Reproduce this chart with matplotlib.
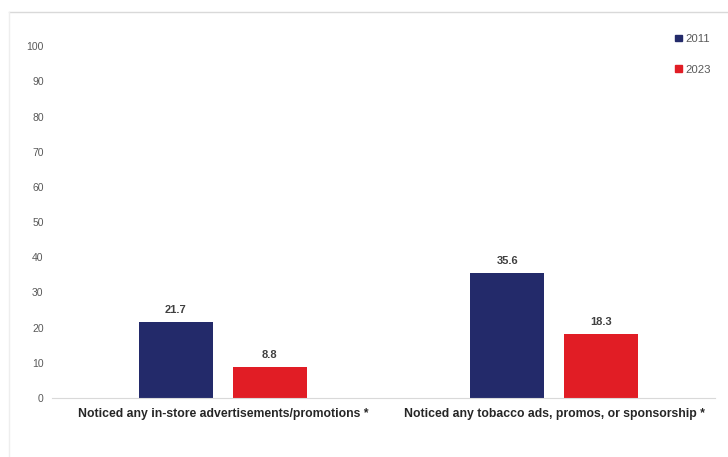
import numpy as np
import matplotlib
matplotlib.use("Agg")
import matplotlib.pyplot as plt
from matplotlib.lines import Line2D
from matplotlib.patches import Patch

categories = ["Noticed any in-store advertisements/promotions *",
              "Noticed any tobacco ads, promos, or sponsorship *"]
years = ["2011", "2023"]
values_2011 = [21.7, 35.6]
values_2023 = [8.8, 18.3]
yticks = list(range(0, 101, 10))

navy = "#232A6A"
red = "#E11D25"
grid_gray = "#D9D9D9"
text_gray = "#595959"

plt.rcParams["font.family"] = ["Liberation Sans", "DejaVu Sans"]

fig = plt.figure(figsize=(7.28, 4.57), dpi=100)
ax = fig.add_axes([0.0714, 0.129, 0.911, 0.770])

x = np.arange(len(categories))
w = 0.223
off = 0.142
b1 = ax.bar(x - off, values_2011, w, color=navy, label=years[0])
b2 = ax.bar(x + off, values_2023, w, color=red, label=years[1])

for bars, vals in [(b1, values_2011), (b2, values_2023)]:
    for rect, v in zip(bars, vals):
        ax.text(rect.get_x() + rect.get_width() / 2, v + 2.0, f"{v:.1f}",
                ha="center", va="bottom", fontsize=8, fontweight="bold",
                color="#404040")

ax.set_xlim(-0.515, 1.485)
ax.set_ylim(0, 100)
ax.set_yticks(yticks)
ax.set_yticklabels([str(t) for t in yticks], fontsize=7.5, color=text_gray)
ax.set_xticks(x)
ax.set_xticklabels(categories, fontsize=8.8, fontweight="bold", color="#262626")
ax.tick_params(axis="both", length=0)
ax.tick_params(axis="y", pad=6)
ax.tick_params(axis="x", pad=7)

for s in ["top", "right", "left"]:
    ax.spines[s].set_visible(False)
ax.spines["bottom"].set_color(grid_gray)
ax.spines["bottom"].set_linewidth(0.8)

handles = [Patch(color=navy, label=years[0]), Patch(color=red, label=years[1])]
fig.legend(handles=handles, loc="upper right", bbox_to_anchor=(0.99, 0.948),
           frameon=False, fontsize=8.2, handlelength=0.55, handleheight=0.55,
           handletextpad=0.3, labelspacing=1.8, labelcolor=text_gray)

# thin frame along the top and left edges
fig.add_artist(Line2D([0.013, 1.0], [0.974, 0.974], color=grid_gray, lw=1.0))
fig.add_artist(Line2D([0.013, 0.013], [0.0, 0.974], color="#EEEEEE", lw=1.0))

fig.savefig("out.png", dpi=100)
